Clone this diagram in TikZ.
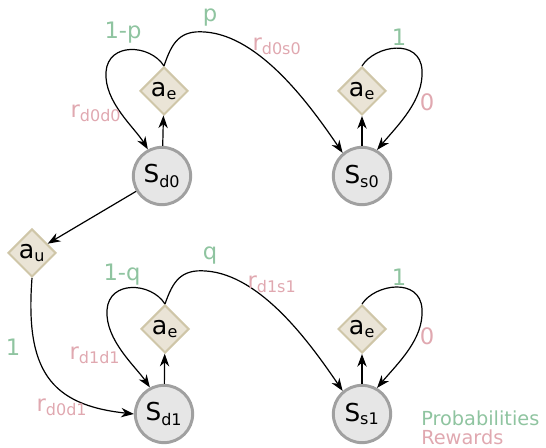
\documentclass[tikz,border=0pt]{standalone}
\usepackage{fontspec}
\setmainfont{DejaVu Sans}
\usetikzlibrary{shapes.geometric,arrows.meta}
\definecolor{probc}{HTML}{8FC4A0}
\definecolor{rewc}{HTML}{E0A8B0}
\definecolor{stfill}{HTML}{E6E6E6}
\definecolor{stdraw}{HTML}{A0A0A0}
\definecolor{acfill}{HTML}{EAE4D6}
\definecolor{acdraw}{HTML}{CFC6A8}
\tikzset{
  stnode/.style={circle, fill=stfill, draw=stdraw, line width=2.2pt, minimum size=43pt, inner sep=0pt, font=\fontsize{18.5}{20}\selectfont},
  acnode/.style={diamond, aspect=1, fill=acfill, draw=acdraw, line width=1.5pt, minimum width=36pt, minimum height=36pt, inner sep=0pt, font=\fontsize{19}{20}\selectfont},
  conn/.style={line width=0.9pt, -{Stealth[length=9.5pt,width=7pt,inset=3pt]}},
  plab/.style={text=probc, font=\fontsize{17}{19}\selectfont, inner sep=0pt},
  rlab/.style={text=rewc, font=\fontsize{17}{19}\selectfont, inner sep=0pt},
  leg/.style={font=\fontsize{14.5}{16}\selectfont, inner sep=0pt, anchor=base west},
}
\newcommand{\sbs}[1]{\textsubscript{\fontsize{12}{12}\selectfont #1}}
\begin{document}
\begin{tikzpicture}[x=0.75pt,y=-0.75pt]
\useasboundingbox (0,0) rectangle (546,448);
% nodes
\node[stnode] (sd0) at (162,176) {S\sbs{d0}};
\node[stnode] (ss0) at (362,176) {S\sbs{s0}};
\node[stnode] (sd1) at (164,414) {S\sbs{d1}};
\node[stnode] (ss1) at (362,414) {S\sbs{s1}};
\node[acnode] (ae1) at (164,91) {a\sbs{e}};
\node[acnode] (ae2) at (362,91) {a\sbs{e}};
\node[acnode] (ae3) at (165,329) {a\sbs{e}};
\node[acnode] (ae4) at (362,329) {a\sbs{e}};
\node[acnode] (au) at (32,253) {a\sbs{u}};
% top-left block
\draw[conn] (sd0) -- (ae1);
\draw[conn] (ae1.north) .. controls (150,44) and (108,42) .. (106,72) .. controls (104,102) and (135,128) .. (sd0.118);
\draw[conn] (ae1.north) .. controls (172,42) and (180,30) .. (205,32) .. controls (260,36) and (310,105) .. (ss0.130);
\draw[conn] (ss0) -- (ae2);
\draw[conn] (ae2.north) .. controls (375,45) and (420,38) .. (422,70) .. controls (424,100) and (398,125) .. (ss0.60);
% left transition
\draw[conn] (sd0) -- (au);
\draw[conn] (au.south) .. controls (25,370) and (50,405) .. (sd1.180);
% bottom block
\draw[conn] (sd1) -- (ae3);
\draw[conn] (ae3.north) .. controls (151,282) and (109,280) .. (107,310) .. controls (105,340) and (136,367) .. (sd1.118);
\draw[conn] (ae3.north) .. controls (173,281) and (181,269) .. (206,271) .. controls (261,275) and (310,343) .. (ss1.130);
\draw[conn] (ss1) -- (ae4);
\draw[conn] (ae4.north) .. controls (375,284) and (420,277) .. (422,309) .. controls (424,339) and (398,363) .. (ss1.60);
% labels
\node[plab] (l1) at (123,33) {1-p};
\node[plab] (l2) at (210,18) {p};
\node[rlab] (l3) at (277,46) {r\sbs{d0s0}};
\node[rlab] (l4) at (96,113) {r\sbs{d0d0}};
\node[plab] (l5) at (399,37) {1};
\node[rlab] (l6) at (427,102) {0};
\node[plab] (l7) at (122,275) {1-q};
\node[plab] (l8) at (210,256) {q};
\node[rlab] (l9) at (272,284) {r\sbs{d1s1}};
\node[rlab] (l10) at (95,355) {r\sbs{d1d1}};
\node[plab] (l11) at (13,347) {1};
\node[rlab] (l12) at (62,407) {r\sbs{d0d1}};
\node[plab] (l13) at (399,277) {1};
\node[rlab] (l14) at (427,336) {0};
\node[leg, text=probc] (lg1) at (421,425.5) {Probabilities};
\node[leg, text=rewc] (lg2) at (421,445) {Rewards};
\end{tikzpicture}
\end{document}
